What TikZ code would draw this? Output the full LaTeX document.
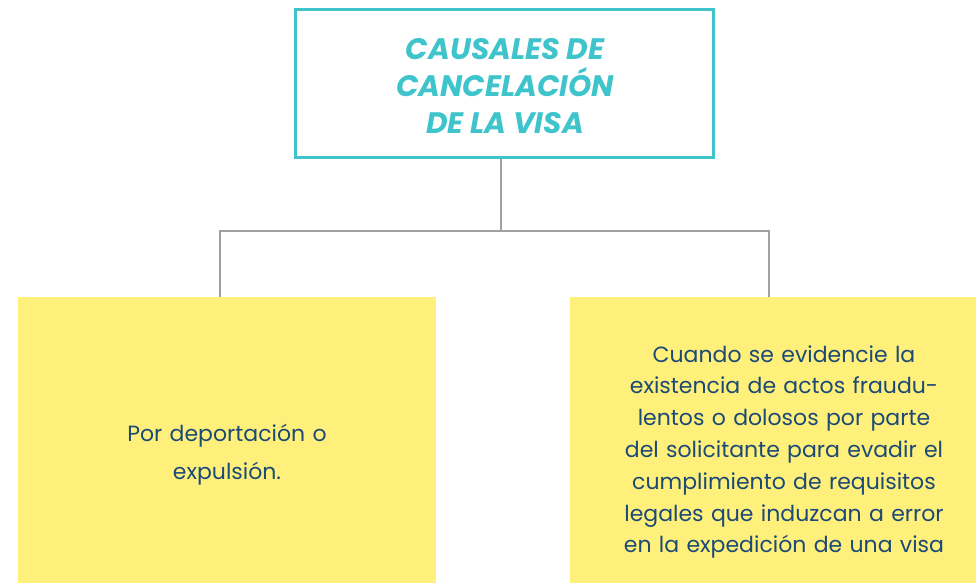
\documentclass[tikz,border=0pt]{standalone}
\usepackage{fontspec}
\setmainfont{Poppins}
\setsansfont{Poppins}
\usepackage{xcolor}
\definecolor{turquesa}{RGB}{64,196,204}
\definecolor{amarillo}{RGB}{254,240,122}
\definecolor{azultexto}{RGB}{28,74,118}
\definecolor{gris}{RGB}{160,160,160}

\begin{document}
\begin{tikzpicture}[x=0.5pt,y=-0.5pt,
titulo/.style={draw=turquesa,line width=1.5pt,fill=white,minimum width=209pt,minimum height=74pt,
  align=center,text=turquesa,font=\sffamily\bfseries\itshape\fontsize{14.8}{18.5}\selectfont,inner sep=0pt},
caja/.style={fill=amarillo,minimum height=143pt,align=center,text=azultexto,inner sep=0pt,
  font=\sffamily\fontsize{11}{15.9}\selectfont},
conector/.style={draw=gris,line width=0.7pt}
]
\useasboundingbox (0,0) rectangle (976,583);
\node (titulo) [titulo] at (504,84) {};
\node (txttitulo) [titulo,draw=none,fill=none,minimum width=0pt,minimum height=0pt] at (505,86) {CAUSALES DE\\CANCELACIÓN\\DE LA VISA};
\node (izq) [caja,minimum width=209pt] at (227,440) {};
\node (der) [caja,minimum width=203pt] at (773,440) {};
\node (txtizq) [caja,fill=none,minimum height=0pt,text width=180pt,
  font=\sffamily\fontsize{11}{19}\selectfont] at (227,455) {Por deportación o\\expulsión.};
\node (txtder) [caja,fill=none,minimum height=0pt,text width=190pt] at (784,452) {Cuando se evidencie la\\existencia de actos fraudu-\\lentos o dolosos por parte\\del solicitante para evadir el\\cumplimiento de requisitos\\legales que induzcan a error\\en la expedición de una visa};
% ramas del organigrama
\coordinate (rama) at (501,231);
\coordinate (ramaIzq) at (220,231);
\coordinate (ramaDer) at (769,231);
\draw[conector] (rama |- titulo.south) -- (rama);
\draw[conector] (ramaIzq |- izq.north) -- (ramaIzq) -- (ramaDer) -- (ramaDer |- der.north);
\end{tikzpicture}
\end{document}
